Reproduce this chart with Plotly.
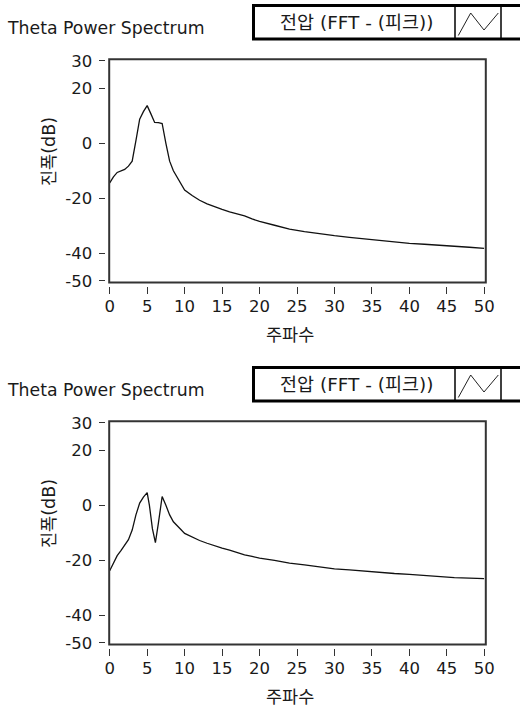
import plotly.graph_objects as go

W, H = 520, 707

# ---- data ----
freq_top = [0, 0.5, 1, 1.5, 2, 2.5, 3, 3.5, 4, 4.5, 5, 5.5, 6, 6.5, 7, 7.5, 8, 8.5, 9, 9.5,
            10, 11, 12, 13, 14, 15, 16, 17, 18, 19, 20, 22, 24, 26, 28, 30, 32, 34, 36, 38,
            40, 42, 44, 46, 48, 50]
amp_top = [-14.4, -12.2, -10.6, -10.0, -9.5, -8.3, -6.5, 1.0, 8.8, 11.5, 13.7, 10.7, 7.6, 7.5, 7.2,
           0.0, -6.5, -10.0, -12.5, -14.5,
           -17.0, -19.0, -20.7, -22.0, -23.1, -24.0, -24.9, -25.6, -26.4, -27.5, -28.4, -29.8,
           -31.2, -32.1, -32.9, -33.6, -34.2, -34.8, -35.4, -35.9,
           -36.4, -36.7, -37.0, -37.4, -37.8, -38.2]

freq_bot = [0, 0.5, 1, 1.5, 2, 2.5, 3, 3.5, 4, 4.5, 5, 5.3, 5.7, 6.1, 6.5, 7, 7.5, 8, 8.5, 9, 9.5,
            10, 11, 12, 13, 14, 15, 16, 17, 18, 19, 20, 22, 24, 26, 28, 30, 32, 34, 36, 38,
            40, 42, 44, 46, 48, 50]
amp_bot = [-23.8, -20.8, -18.3, -16.5, -14.3, -12.5, -9.0, -3.5, 0.8, 3.0, 4.6, 0.0, -8.5, -13.6,
           -6.5, 3.2, 0.0, -3.5, -6.0, -7.6, -8.8,
           -10.2, -11.6, -12.8, -13.8, -14.8, -15.6, -16.3, -17.2, -18.0, -18.6, -19.2, -20.0,
           -21.0, -21.7, -22.5, -23.1, -23.5, -24.0, -24.4, -24.8,
           -25.1, -25.5, -26.0, -26.3, -26.5, -26.7]

x_ticks = [0, 5, 10, 15, 20, 25, 30, 35, 40, 45, 50]
x_ticktext = ["0", "5", "10", "15", "20", "25", "30", "35", "40", "45", "50"]
y_ticks = [-50, -40, -20, 0, 20, 30]
y_ticktext = ["-50", "-40", "-20", "0", "20", "30"]

chart_title = "Theta Power Spectrum"
legend_label = "전압 (FFT - (피크))"
x_title = "주파수"
y_title = "진폭(dB)"

FONT = "DejaVu Sans, Noto Sans CJK KR, sans-serif"
TXT = "#1a1a1a"
FRAME = "#333333"


def px(x):
    return x / W


def py(y):
    return 1 - y / H


fig = go.Figure()
fig.add_trace(go.Scatter(x=freq_top, y=amp_top, mode="lines", xaxis="x", yaxis="y",
                         line=dict(color="#111111", width=1.3), showlegend=False,
                         hoverinfo="skip"))
fig.add_trace(go.Scatter(x=freq_bot, y=amp_bot, mode="lines", xaxis="x2", yaxis="y2",
                         line=dict(color="#111111", width=1.3), showlegend=False,
                         hoverinfo="skip"))

panels = [0, 362]  # vertical pixel offset of each panel
xdom = [px(109.7), px(484.3)]

layout = dict(
    width=W, height=H, margin=dict(l=0, r=0, t=0, b=0, pad=0, autoexpand=False),
    paper_bgcolor="white", plot_bgcolor="white",
    font=dict(family=FONT, size=16, color=TXT),
    showlegend=False,
)

shapes = []
annotations = []
for i, off in enumerate(panels):
    sx = "" if i == 0 else str(i + 1)
    y_top = 60.8 + off
    y_bot = 280.8 + off
    layout["xaxis" + sx] = dict(
        domain=xdom, range=[0, 50], anchor="free", position=py(285.7 + off),
        tickvals=x_ticks, ticktext=x_ticktext, ticks="outside", ticklen=7, tickwidth=1.3,
        tickcolor=FRAME, showline=False, showgrid=False, zeroline=False,
        ticklabelstandoff=-2, automargin=False,
        tickfont=dict(size=16.5, color=TXT, family=FONT),
    )
    layout["yaxis" + sx] = dict(
        domain=[py(y_bot), py(y_top)], range=[-50, 30], anchor="free", position=px(105),
        tickvals=y_ticks, ticktext=y_ticktext, ticks="outside", ticklen=6.5, tickwidth=1.3,
        tickcolor=FRAME, showline=False, showgrid=False, zeroline=False,
        ticklabelstandoff=3, automargin=False,
        tickfont=dict(size=16.5, color=TXT, family=FONT),
    )
    # plot frame
    shapes.append(dict(type="rect", xref="paper", yref="paper",
                       x0=px(109.2), x1=px(485.8), y0=py(282.5 + off), y1=py(59.3 + off),
                       line=dict(color=FRAME, width=2), layer="above"))
    # legend box
    shapes.append(dict(type="rect", xref="paper", yref="paper",
                       x0=px(253.5), x1=px(523), y0=py(39 + off), y1=py(5.5 + off),
                       line=dict(color="#000000", width=3), fillcolor="white"))
    shapes.append(dict(type="line", xref="paper", yref="paper",
                       x0=px(455), x1=px(455), y0=py(39 + off), y1=py(5.5 + off),
                       line=dict(color="#000000", width=1.5)))
    shapes.append(dict(type="line", xref="paper", yref="paper",
                       x0=px(501), x1=px(501), y0=py(39 + off), y1=py(5.5 + off),
                       line=dict(color="#000000", width=1.5)))
    shapes.append(dict(type="path", xref="paper", yref="paper",
                       path="M {} {} L {} {} L {} {} L {} {}".format(
                           px(458.3), py(35.5 + off), px(470.7), py(13 + off),
                           px(484), py(30 + off), px(498.3), py(13 + off)),
                       line=dict(color="#222222", width=1)))
    annotations.append(dict(text=legend_label, xref="paper", yref="paper",
                            x=px(357), y=py(22.5 + off), xanchor="center", yanchor="middle",
                            showarrow=False, font=dict(size=18.5, color=TXT, family=FONT)))
    annotations.append(dict(text=chart_title, xref="paper", yref="paper",
                            x=px(4.5), y=py(28 + off), xanchor="left", yanchor="middle",
                            showarrow=False, font=dict(size=17.3, color=TXT, family=FONT)))
    annotations.append(dict(text=x_title, xref="paper", yref="paper",
                            x=px(290), y=py(335 + off), xanchor="center", yanchor="middle",
                            showarrow=False, font=dict(size=17.5, color=TXT, family=FONT)))
    annotations.append(dict(text=y_title, xref="paper", yref="paper", textangle=-90,
                            x=px(49), y=py(152 + off), xanchor="center", yanchor="middle",
                            showarrow=False, font=dict(size=17.5, color=TXT, family=FONT)))

layout["shapes"] = shapes
layout["annotations"] = annotations
fig.update_layout(**layout)
fig.write_html("out.html", config={"displayModeBar": False},
               post_script="document.body.style.margin='0px';")
